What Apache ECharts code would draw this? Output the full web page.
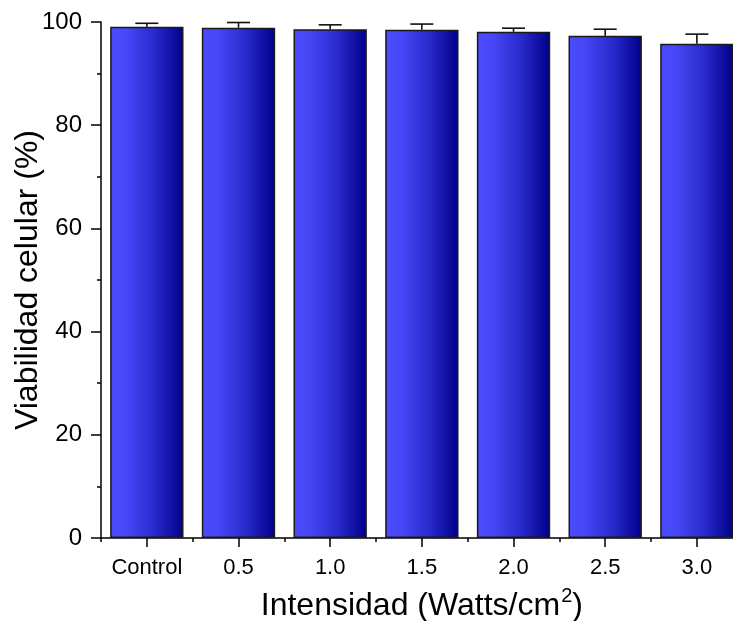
<!DOCTYPE html>
<html>
<head>
<meta charset="utf-8">
<script src="https://cdn.jsdelivr.net/npm/echarts@6/dist/echarts.min.js"></script>
<style>
  html, body { margin: 0; padding: 0; background: #fff; }
  #chart { width: 733px; height: 621px; }
</style>
</head>
<body>
<div id="chart"></div>
<script>
// Cell viability (%) versus ultrasound intensity
const categories = ['Control', '0.5', '1.0', '1.5', '2.0', '2.5', '3.0'];
const viability = [99.1, 98.9, 98.6, 98.5, 98.1, 97.35, 95.8];
const viabilityErr = [0.65, 1.0, 0.85, 1.1, 0.7, 1.25, 1.85];
const yTicks = [0, 20, 40, 60, 80, 100];

const FONT = '"Liberation Sans", Arial, sans-serif';

const barFill = {
  type: 'linear', x: 0, y: 0, x2: 1, y2: 0,
  colorStops: [
    { offset: 0, color: '#4C4CFF' },
    { offset: 0.2, color: '#4848F8' },
    { offset: 0.6, color: '#2A2ACC' },
    { offset: 1, color: '#00008A' }
  ]
};

const chart = echarts.init(document.getElementById('chart'), null, { renderer: 'canvas' });

chart.setOption({
  animation: false,
  backgroundColor: '#ffffff',
  grid: {
    left: 101, top: 22, width: 641.7, height: 516,
    containLabel: false, outerBoundsMode: 'none'
  },
  xAxis: [
    {
      type: 'category',
      data: categories,
      name: '{t|Intensidad (Watts/cm}{sup|2}{t|)}',
      nameLocation: 'middle',
      nameGap: 48,
      nameMoveOverlap: false,
      nameTextStyle: {
        fontFamily: FONT, fontSize: 32, color: '#000',
        rich: {
          t: { fontFamily: FONT, fontSize: 32, color: '#000' },
          sup: { fontFamily: FONT, fontSize: 20, color: '#000', verticalAlign: 'top', padding: [0, 0, 20, 1] }
        }
      },
      axisLine: { show: true, lineStyle: { color: '#000', width: 1.5 } },
      axisTick: { show: true, alignWithLabel: true, length: 9, lineStyle: { color: '#000', width: 1.5 } },
      axisLabel: { fontFamily: FONT, fontSize: 22, color: '#000', margin: 19, interval: 0, hideOverlap: false },
      splitLine: { show: false }
    },
    {
      // short ticks on the category boundaries
      type: 'category',
      data: categories,
      position: 'bottom',
      gridIndex: 0,
      axisLine: { show: false },
      axisTick: { show: true, interval: 0, length: 4, lineStyle: { color: '#000', width: 1.5 } },
      axisLabel: { show: false },
      splitLine: { show: false }
    }
  ],
  yAxis: {
    type: 'value',
    min: 0, max: 100, interval: 20,
    name: 'Viabilidad celular (%)',
    nameLocation: 'middle',
    nameGap: 57,
    nameMoveOverlap: false,
    nameRotate: 90,
    nameTextStyle: { fontFamily: FONT, fontSize: 32, color: '#000' },
    axisLine: { show: true, lineStyle: { color: '#000', width: 1.5 } },
    axisTick: { show: true, length: 10, lineStyle: { color: '#000', width: 1.5 } },
    minorTick: { show: true, splitNumber: 2, length: 4, lineStyle: { color: '#000', width: 1.5 } },
    axisLabel: {
      fontFamily: FONT, fontSize: 24, color: '#000', margin: 19,
      formatter: v => (yTicks.includes(v) ? String(v) : '')
    },
    splitLine: { show: false }
  },
  series: [
    {
      type: 'bar',
      data: viability,
      barWidth: '80%',
      itemStyle: { color: barFill, borderColor: '#1a1a1a', borderWidth: 1.5 },
      z: 2
    },
    {
      // upper error bars with caps
      type: 'custom',
      data: categories.map((c, i) => [i, viability[i], viability[i] + viabilityErr[i]]),
      encode: { x: 0, y: [1, 2] },
      z: 3,
      renderItem: (params, api) => {
        const base = api.coord([api.value(0), api.value(1)]);
        const top = api.coord([api.value(0), api.value(2)]);
        const half = 11.5;
        const style = { stroke: '#111', lineWidth: 1.6 };
        return {
          type: 'group',
          children: [
            { type: 'line', shape: { x1: base[0], y1: base[1], x2: top[0], y2: top[1] }, style },
            { type: 'line', shape: { x1: top[0] - half, y1: top[1], x2: top[0] + half, y2: top[1] }, style }
          ]
        };
      }
    }
  ]
});
</script>
</body>
</html>
